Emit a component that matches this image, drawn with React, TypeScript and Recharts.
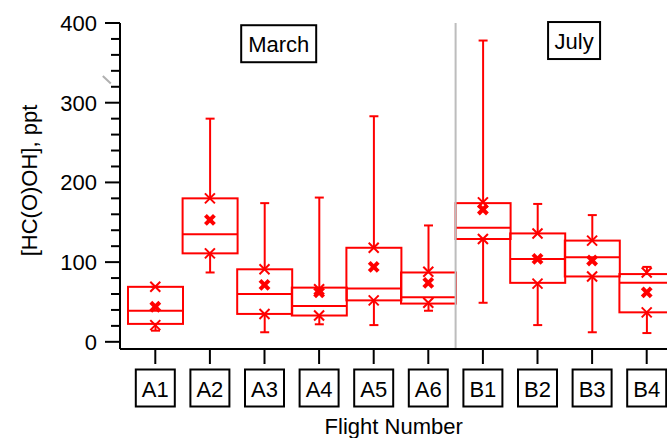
import React from 'react';
import { ComposedChart, Bar, Scatter, XAxis, YAxis, ReferenceLine, ReferenceDot } from 'recharts';

// ---- data ----
const flights = ['A1', 'A2', 'A3', 'A4', 'A5', 'A6', 'B1', 'B2', 'B3', 'B4'];
const whiskerLow = [14, 87, 12, 22, 21, 39, 49, 21, 12, 11];
const boxLow = [22.5, 111, 35, 33, 52, 48, 129, 74, 82, 37];
const medians = [39, 135, 60, 45, 67, 56, 143, 104, 106, 74];
const boxHigh = [69, 180, 91, 68, 118, 87, 174, 136, 127, 85];
const whiskerHigh = [69, 280, 174, 181, 283, 146, 378, 173, 159, 94];
const lowerMarks = [21, 111, 35, 33, 52, 49, 129, 73, 82, 37];
const upperMarks = [69, 180, 91, 66, 118, 88, 175, 136, 127, 87];
const means = [44, 153, 71.5, 62, 94, 74, 166, 104, 102, 62];
const yTicks = [0, 20, 40, 60, 80, 100, 120, 140, 160, 180, 200, 220, 240, 260, 280, 300, 320, 340, 360, 380, 400];
const periodLabels = ['March', 'July'];
const periodSplit = 5.5;

const data = flights.map((name, i) => ({
  name,
  idx: i,
  min: whiskerLow[i],
  q1: boxLow[i],
  med: medians[i],
  q3: boxHigh[i],
  max: whiskerHigh[i],
  lo: lowerMarks[i],
  hi: upperMarks[i],
  mean: means[i],
}));

// ---- layout / style ----
const RED = '#ff0000';
const FONT = '"Liberation Sans", Arial, Helvetica, sans-serif';
const CHART_W = 682;
const CHART_H = 438;
const PAD = 8;
const BAND = (CHART_W - 120 - 2 * PAD) / flights.length;
const NUM_MIN = -0.5 - PAD / BAND;
const NUM_MAX = flights.length - 0.5 + PAD / BAND;
const periodPos = [
  { x: 2.26, y: 374, w: 75 },
  { x: 7.67, y: 378, w: 52 },
];

const BoxShape = (props: any) => {
  const { x, y, width, height, payload } = props;
  const top = Math.min(y, y + height);
  const bottom = Math.max(y, y + height);
  const span = payload.max - payload.min || 1;
  const py = (v: number) => bottom - ((v - payload.min) / span) * (bottom - top);
  const cx = x + width / 2;
  const cap = 4.5;
  const yq1 = py(payload.q1);
  const yq3 = py(payload.q3);
  const ymed = py(payload.med);
  const ymin = py(payload.min);
  const ymax = py(payload.max);
  return (
    <g stroke={RED} strokeWidth={2} fill="none">
      <line x1={cx} x2={cx} y1={ymax} y2={yq3} />
      <line x1={cx} x2={cx} y1={yq1} y2={ymin} />
      <line x1={cx - cap} x2={cx + cap} y1={ymax} y2={ymax} />
      <line x1={cx - cap} x2={cx + cap} y1={ymin} y2={ymin} />
      <rect x={x} y={yq3} width={width} height={yq1 - yq3} />
      <line x1={x} x2={x + width} y1={ymed} y2={ymed} />
    </g>
  );
};

const ThinX = (props: any) => {
  const { cx, cy } = props;
  const s = 5;
  return (
    <g stroke={RED} strokeWidth={2}>
      <line x1={cx - s} y1={cy - s} x2={cx + s} y2={cy + s} />
      <line x1={cx - s} y1={cy + s} x2={cx + s} y2={cy - s} />
    </g>
  );
};

const BoldX = (props: any) => {
  const { cx, cy } = props;
  const s = 4.5;
  return (
    <g stroke={RED} strokeWidth={4}>
      <line x1={cx - s} y1={cy - s} x2={cx + s} y2={cy + s} />
      <line x1={cx - s} y1={cy + s} x2={cx + s} y2={cy - s} />
    </g>
  );
};

const YTick = (props: any) => {
  const { x, y, payload } = props;
  const major = payload.value % 100 === 0;
  return (
    <g>
      <line x1={x - (major ? 15 : 9)} x2={x} y1={y} y2={y} stroke="#000" strokeWidth={2} />
      {major && (
        <text x={x - 23} y={y + 8} textAnchor="end" fontSize={22} fontFamily={FONT} fill="#000">
          {payload.value}
        </text>
      )}
    </g>
  );
};

const XTick = (props: any) => {
  const { x, y, payload } = props;
  return (
    <g>
      <line x1={x} x2={x} y1={y} y2={y + 15} stroke="#000" strokeWidth={2} />
      <rect x={x - 19.5} y={y + 20.5} width={39} height={37} fill="#fff" stroke="#000" strokeWidth={2} />
      <text x={x} y={y + 47.5} textAnchor="middle" fontSize={22} fontFamily={FONT} fill="#000">
        {payload.value}
      </text>
    </g>
  );
};

const PeriodBox = ({ cx, cy, text, w }: any) => (
  <g>
    <rect x={cx - w / 2} y={cy - 18.5} width={w} height={37} fill="#fff" stroke="#000" strokeWidth={2} />
    <text x={cx} y={cy + 8} textAnchor="middle" fontSize={22} fontFamily={FONT} fill="#000">
      {text}
    </text>
  </g>
);

const YTitle = () => (
  <text
    x={36.5}
    y={180.5}
    transform="rotate(-90, 36.5, 180.5)"
    textAnchor="middle"
    fontSize={22}
    fontFamily={FONT}
    fill="#000"
  >
    [HC(O)OH], ppt
  </text>
);

const XTitle = () => (
  <text x={393.7} y={434} textAnchor="middle" fontSize={22} fontFamily={FONT} fill="#000">
    Flight Number
  </text>
);

export default function App() {
  return (
    <div style={{ position: 'absolute', left: 0, top: 0, width: 667, height: 438, overflow: 'hidden', background: '#fff' }}>
      <ComposedChart
        width={CHART_W}
        height={CHART_H}
        data={data}
        margin={{ top: 23, right: 0, bottom: 0, left: 0 }}
        barCategoryGap={0}
        barGap={0}
      >
        <XAxis
          dataKey="name"
          type="category"
          padding={{ left: PAD, right: PAD }}
          interval={0}
          tickSize={0}
          tickMargin={0}
          tickLine={false}
          axisLine={{ stroke: '#000', strokeWidth: 2 }}
          tick={<XTick />}
          height={89}
          label={<XTitle />}
        />
        <XAxis
          xAxisId="n"
          dataKey="idx"
          type="number"
          domain={[NUM_MIN, NUM_MAX]}
          allowDataOverflow
          hide
        />
        <YAxis
          type="number"
          domain={[-9, 400]}
          ticks={yTicks}
          interval={0}
          allowDataOverflow
          width={120}
          tickSize={0}
          tickMargin={0}
          tickLine={false}
          axisLine={{ stroke: '#000', strokeWidth: 2 }}
          tick={<YTick />}
          label={<YTitle />}
        />
        <ReferenceLine xAxisId="n" x={periodSplit} stroke="#bdbdbd" strokeWidth={2} />
        <ReferenceLine
          xAxisId="n"
          ifOverflow="visible"
          stroke="#b0b0b0"
          strokeWidth={2}
          segment={[{ x: -0.961, y: 333.5 }, { x: -0.815, y: 324 }]}
        />
        <Bar dataKey={(d: any) => [d.min, d.max]} shape={<BoxShape />} isAnimationActive={false} />
        <Scatter dataKey="lo" shape={<ThinX />} isAnimationActive={false} />
        <Scatter dataKey="hi" shape={<ThinX />} isAnimationActive={false} />
        <Scatter dataKey="mean" shape={<BoldX />} isAnimationActive={false} />
        {periodLabels.map((label, i) => (
          <ReferenceDot
            key={label}
            xAxisId="n"
            x={periodPos[i].x}
            y={periodPos[i].y}
            ifOverflow="visible"
            shape={(p: any) => <PeriodBox {...p} text={label} w={periodPos[i].w} />}
          />
        ))}
      </ComposedChart>
    </div>
  );
}
